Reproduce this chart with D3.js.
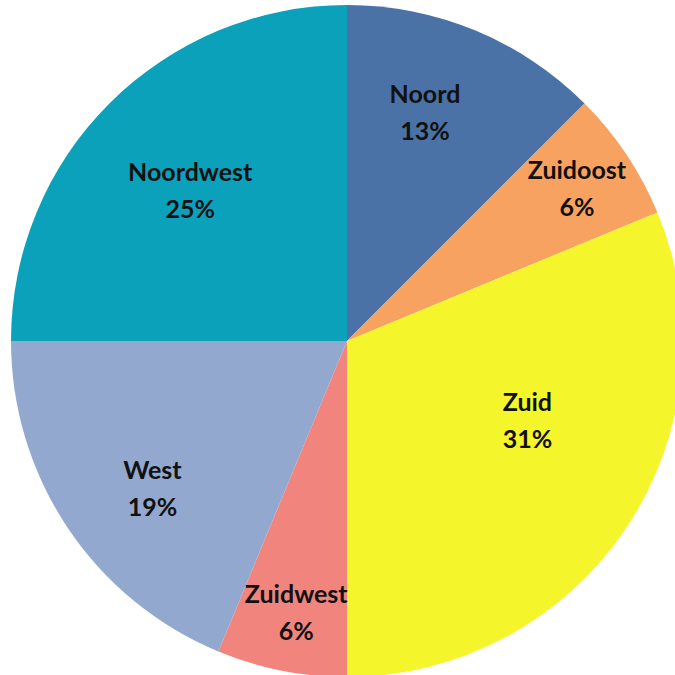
<!DOCTYPE html>
<html><head><meta charset="utf-8">
<script src="https://cdn.jsdelivr.net/npm/d3@7"></script>
<style>html,body{margin:0;padding:0;background:#fff;overflow:hidden}</style>
</head><body>
<svg id="chart" width="675" height="675"></svg>
<script>
const categories = ["Noord","Zuidoost","Zuid","Zuidwest","West","Noordwest"];
const values = [12.5, 6.25, 31.25, 6.25, 18.75, 25];
const percentLabels = ["13%","6%","31%","6%","19%","25%"];
const colors = ["#4a72a6","#f7a260","#f5f52b","#f2847e","#93a8cf","#0ba1bb"];
// label placement (radius, angle in degrees from 12 o'clock)
const labelRadius = [242, 276, 197, 276, 244, 218];
const labelAngle = [18.8, 56.4, 113.7, 190.6, 232.9, 314];

const svg = d3.select("#chart");
const cx = 347, cy = 341, R = 336;
const g = svg.append("g").attr("transform", `translate(${cx},${cy})`);
const pie = d3.pie().sort(null).value(d => d);
const arcs = pie(values);
const arc = d3.arc().innerRadius(0).outerRadius(R);
g.selectAll("path").data(arcs).enter().append("path")
  .attr("d", arc).attr("fill", (d,i) => colors[i]);

const lab = g.selectAll("g.lab").data(arcs).enter().append("g").attr("class","lab")
  .attr("transform", (d,i) => {
    const a = labelAngle[i] * Math.PI/180, r = labelRadius[i];
    return `translate(${r*Math.sin(a)},${-r*Math.cos(a)})`;
  });
const fs = "25px", ff = "Lato, 'Open Sans', sans-serif";
lab.append("text").attr("text-anchor","middle").attr("y",-9)
  .style("font-family",ff).style("font-weight","bold")
  .style("font-size",fs).attr("fill","#111").text((d,i)=>categories[i]);
lab.append("text").attr("text-anchor","middle").attr("y",28)
  .style("font-family",ff).style("font-weight","bold")
  .style("font-size",fs).attr("fill","#111").text((d,i)=>percentLabels[i]);
</script>
</body></html>
